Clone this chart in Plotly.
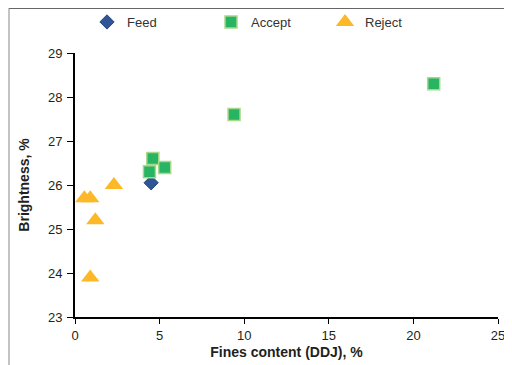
import plotly.graph_objects as go

feed_x = [4.5]
feed_y = [26.05]
accept_x = [4.6, 4.4, 5.3, 9.4, 21.2]
accept_y = [26.6, 26.3, 26.4, 27.6, 28.3]
reject_x = [0.55, 0.9, 1.2, 2.3, 0.9]
reject_y = [25.7, 25.7, 25.2, 26.0, 23.9]
x_ticks = [0, 5, 10, 15, 20, 25]
y_ticks = [23, 24, 25, 26, 27, 28, 29]

FONT = "Liberation Sans, Arial, Helvetica, sans-serif"

fig = go.Figure()
fig.add_trace(go.Scatter(x=feed_x, y=feed_y, mode="markers", name="Feed", legend="legend",
                         showlegend=True,
                         marker=dict(symbol="diamond", size=11, color="#2F5597",
                                     line=dict(color="#24467F", width=1))))
fig.add_trace(go.Scatter(x=accept_x, y=accept_y, mode="markers", name="Accept", legend="legend2",
                         showlegend=True,
                         marker=dict(symbol="square", size=12, color="#27B463",
                                     line=dict(color="#A8D88A", width=1.5))))
fig.add_trace(go.Scatter(x=reject_x, y=reject_y, mode="markers", name="Reject", legend="legend3",
                         showlegend=True,
                         marker=dict(symbol="triangle-up", size=16, color="#FDB827",
                                     line=dict(width=0))))

# The page body has an 8px margin, so the figure is 8px smaller and everything is shifted by 8px.
W, H = 504, 357
OFF = 8
L, R, T, B = 75 - OFF, 14, 53 - OFF, 48
pw, ph = W - L - R, H - T - B

def px_x(p):
    return (p - OFF - L) / pw

def px_y(p):
    return (H - B - (p - OFF)) / ph

legend_common = dict(orientation="h", xanchor="left", yanchor="middle",
                     xref="container", yref="container",
                     font=dict(family=FONT, size=13, color="#333333"),
                     bgcolor="rgba(0,0,0,0)", borderwidth=0)

LEG_Y = 1 - (22 - OFF) / H

fig.update_layout(
    width=W, height=H,
    margin=dict(l=L, r=R, t=T, b=B, autoexpand=False),
    showlegend=True,
    paper_bgcolor="white", plot_bgcolor="white",
    font=dict(family=FONT, size=13, color="#231F20"),
    legend=dict(x=(110 - OFF - 23) / W, y=LEG_Y, **legend_common),
    legend2=dict(x=(234 - OFF - 23) / W, y=LEG_Y, **legend_common),
    legend3=dict(x=(348 - OFF - 23) / W, y=LEG_Y, **legend_common),
    xaxis=dict(range=[0, 25], tickvals=x_ticks, showgrid=False, zeroline=False,
               automargin=False,
               showline=True, linecolor="black", linewidth=2,
               ticks="outside", ticklen=5, tickwidth=1, tickcolor="black",
               tickfont=dict(size=13, color="#231F20"),
               title=dict(text="<b>Fines content (DDJ), %</b>", font=dict(size=14, color="#231F20"), standoff=6)),
    yaxis=dict(range=[23, 29], tickvals=y_ticks, showgrid=False, zeroline=False,
               automargin=False,
               showline=True, linecolor="black", linewidth=2,
               ticks="outside", ticklen=6, tickwidth=1, tickcolor="black",
               ticklabelstandoff=2,
               tickfont=dict(size=13, color="#231F20"),
               title=dict(text="<b>Brightness, %</b>", font=dict(size=14, color="#231F20"), standoff=15)),
    shapes=[
        dict(type="line", xref="paper", yref="paper", x0=px_x(9), x1=px_x(513), y0=px_y(8), y1=px_y(8),
             line=dict(color="#333333", width=1.5)),
        dict(type="line", xref="paper", yref="paper", x0=px_x(9), x1=px_x(9), y0=px_y(8), y1=px_y(366),
             line=dict(color="#888888", width=1)),
    ],
)

fig.write_html("out.html")
